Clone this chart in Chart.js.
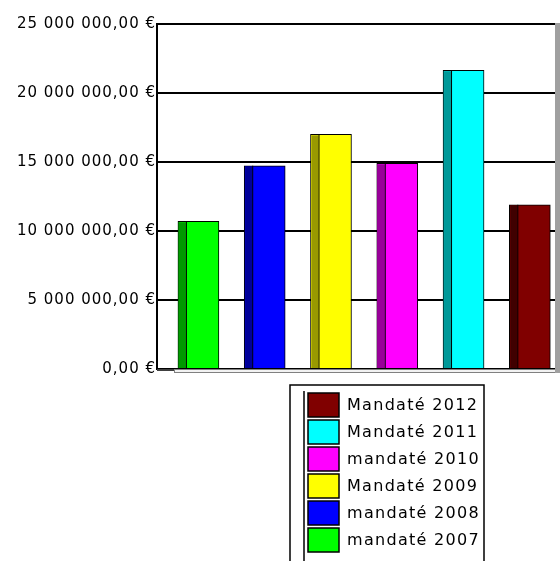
<!DOCTYPE html>
<html>
<head>
<meta charset="utf-8">
<script src="https://cdn.jsdelivr.net/npm/chart.js@4.4.1/dist/chart.umd.min.js"></script>
<style>
  html, body { margin: 0; padding: 0; background: #fff; overflow: hidden; }
  #wrap { width: 560px; height: 561px; position: relative; }
</style>
</head>
<body>
<div id="wrap"><canvas id="budgetChart"></canvas></div>
<script>
// amounts per year, left to right
const seriesNames = ["mandaté 2007", "mandaté 2008", "Mandaté 2009", "mandaté 2010", "Mandaté 2011", "Mandaté 2012"];
const amounts = [10700000, 14730000, 17000000, 14900000, 21650000, 11900000];
const yTicks = [0, 5000000, 10000000, 15000000, 20000000, 25000000];

const faceColors = ["#00ff00", "#0000ff", "#ffff00", "#ff00ff", "#00ffff", "#800000"];
const sideColors = ["#009900", "#000099", "#999900", "#990099", "#009999", "#400000"];

function euro(v) {
    let parts = v.toFixed(2).split(".");
    return parts[0].replace(/\B(?=(\d{3})+(?!\d))/g, " ") + "," + parts[1] + " €";
}

// extra drawing: bar side faces, floor, right wall, boxed legend
const decor = {
    id: "decor",
    beforeDraw(chart) {
        chart.ctx.letterSpacing = "1px";
    },
    afterDatasetsDraw(chart) {
        const ctx = chart.ctx;
        const a = chart.chartArea;
        chart.data.datasets.forEach((ds, i) => {
            const bar = chart.getDatasetMeta(i).data[0];
            const left = bar.x - bar.width / 2;
            ctx.save();
            ctx.fillStyle = sideColors[i];
            ctx.fillRect(left + 1, bar.y + 1, 7, bar.base - bar.y - 1);
            ctx.strokeStyle = "#000";
            ctx.lineWidth = 1;
            ctx.beginPath();
            ctx.moveTo(left + 8.5, bar.y);
            ctx.lineTo(left + 8.5, bar.base);
            ctx.stroke();
            ctx.restore();
        });

        ctx.save();
        // floor
        ctx.fillStyle = "#f2f2f2";
        ctx.fillRect(a.left + 17, a.bottom, a.right - a.left - 17, 4);
        ctx.strokeStyle = "#808080";
        ctx.lineWidth = 1;
        ctx.strokeRect(a.left + 17.5, a.bottom + 0.5, a.right - a.left - 17, 3);
        ctx.fillStyle = "#404040";
        ctx.fillRect(a.left, a.bottom, 17, 2);
        // right wall
        ctx.fillStyle = "#a0a0a0";
        ctx.fillRect(a.right - 2, a.top - 1, 5, a.bottom - a.top + 5);
        ctx.restore();
    },
    afterDraw(chart) {
        const ctx = chart.ctx;
        const boxL = 290, boxT = 385, boxR = 484;
        ctx.save();
        ctx.strokeStyle = "#000";
        ctx.lineWidth = 1.5;
        ctx.beginPath();
        ctx.moveTo(boxL, 570);
        ctx.lineTo(boxL, boxT);
        ctx.lineTo(boxR, boxT);
        ctx.lineTo(boxR, 570);
        ctx.moveTo(boxL + 14, 570);
        ctx.lineTo(boxL + 14, boxT + 6);
        ctx.stroke();

        ctx.font = "16px 'DejaVu Sans'";
        ctx.letterSpacing = "1.3px";
        ctx.textBaseline = "middle";
        ctx.textAlign = "left";
        const order = seriesNames.map((n, i) => i).reverse();
        order.forEach((idx, row) => {
            const cy = 405 + row * 27;
            ctx.fillStyle = faceColors[idx];
            ctx.fillRect(308, cy - 12, 31, 24);
            ctx.lineWidth = 1.5;
            ctx.strokeStyle = "#000";
            ctx.strokeRect(308, cy - 12, 31, 24);
            ctx.fillStyle = "#000";
            ctx.fillText(seriesNames[idx], 347, cy + 1);
        });
        ctx.restore();
    }
};

new Chart(document.getElementById("budgetChart"), {
    type: "bar",
    data: {
        datasets: seriesNames.map((name, i) => ({
            label: name,
            data: [{ x: i + 1, y: amounts[i] }],
            backgroundColor: faceColors[i],
            borderColor: "#000",
            borderWidth: 1,
            grouped: false,
            barThickness: 41
        }))
    },
    options: {
        responsive: true,
        maintainAspectRatio: false,
        animation: false,
        layout: { padding: { top: 24, right: 3, bottom: 192, left: 0 } },
        plugins: {
            legend: { display: false },
            tooltip: { enabled: false }
        },
        scales: {
            x: { type: "linear", display: false, offset: false, min: 0.375, max: 6.41 },
            y: {
                min: 0,
                max: 25000000,
                afterBuildTicks: s => { s.ticks = yTicks.map(v => ({ value: v })); },
                afterFit: s => { s.width = 157; },
                border: { color: "#000", width: 2 },
                grid: { color: "#000", lineWidth: 2, drawTicks: false },
                ticks: {
                    padding: 1,
                    color: "#000",
                    font: { family: "'DejaVu Sans'", size: 15 },
                    callback: v => euro(v)
                }
            }
        }
    },
    plugins: [decor]
});
</script>
</body>
</html>
